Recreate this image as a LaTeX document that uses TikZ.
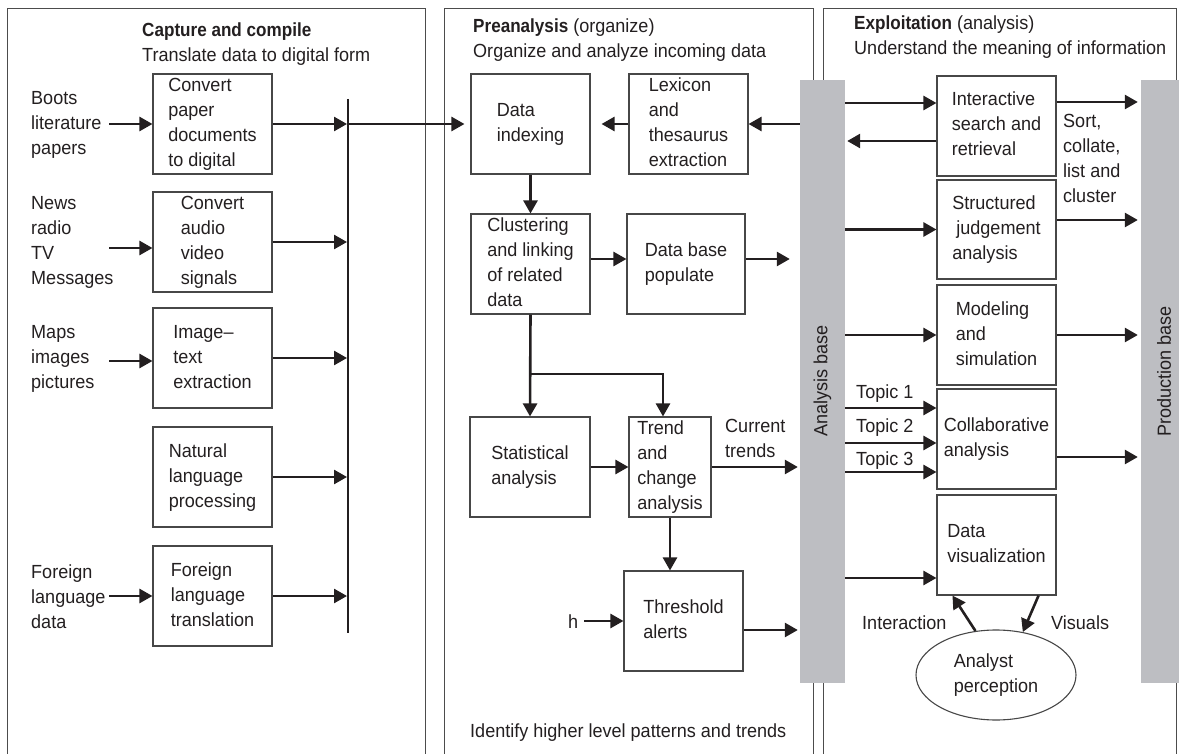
\documentclass[tikz,border=0pt]{standalone}
\usepackage{fontspec}
\setmainfont{Liberation Sans}[FakeStretch=0.95,BoldFeatures={FakeStretch=0.9}]
\usetikzlibrary{arrows.meta,shapes.geometric,calc}
\definecolor{basegray}{RGB}{189,190,194}
\definecolor{ink}{RGB}{35,31,32}
% \mybox{name}{x1}{y1}{x2}{y2}{text}: framed process box given by its corners
\newcommand{\mybox}[6]{%
  \node[box, minimum width={(#4)-(#2)}, minimum height={(#5)-(#3)}]
    (#1) at ({((#2)+(#4))/2},{((#3)+(#5))/2}) {\strut#6\strut};}
\begin{document}
\begin{tikzpicture}[x=1pt,y=-1pt,
  every node/.style={font=\fontsize{19}{25}\selectfont, inner sep=0pt, text=ink},
  box/.style={draw=black!72, line width=1.1pt, rectangle, align=left},
  lbl/.style={align=left, anchor=north west},
  hd/.style={anchor=base west},
  panel/.style={draw=black!70, line width=0.9pt},
  arr/.style={draw=ink, line width=2.6pt, -{Triangle[length=13pt,width=14pt]}},
  busline/.style={draw=ink, line width=2.7pt},
  bar/.style={fill=basegray, draw=none, rectangle}]
\useasboundingbox (0,0) rectangle (1179,754);

% ---- panel frames (open at the bottom)
\draw[panel] (7,754) -- (7,8) -- (425,8) -- (425,754);
\draw[panel] (444,754) -- (444,8) -- (813,8) -- (813,754);
\draw[panel] (823,754) -- (823,8) -- (1176,8) -- (1176,754);

% ---- panel headings
\node[hd] (h1) at (142,37) {\textbf{Capture and compile}};
\node[hd] (h1b) at (142,62) {Translate data to digital form};
\node[hd] (h2) at (473,33) {\textbf{Preanalysis} (organize)};
\node[hd] (h2b) at (473,58) {Organize and analyze incoming data};
\node[hd] (h3) at (854,30) {\textbf{Exploitation} (analysis)};
\node[hd] (h3b) at (854,55) {Understand the meaning of information};
\node[hd] (h2c) at (470,737) {Identify higher level patterns and trends};

% ---- analysis and production bases
\node[bar, minimum width=45, minimum height=603] (AB) at (822.5,381.5) {};
\node[bar, minimum width=45, minimum height=603] (PB) at (1163.5,381.5) {};
\node[rotate=90, anchor=west] (ABt) at (822.5,437) {Analysis base};
\node[rotate=90, anchor=west] (PBt) at (1164,437) {Production base};

% ---- capture and compile
\node[lbl] (I1) at (31,86.5) {\strut Boots\\literature\\papers};
\node[lbl] (I2) at (31,191.5) {\strut News\\radio\\TV\\Messages};
\node[lbl] (I3) at (31,320.5) {\strut Maps\\images\\pictures};
\node[lbl] (I5) at (31,560.5) {\strut Foreign\\language\\data};

\mybox{L1}{153}{74}{272}{174}{Convert\\paper\\documents\\to digital}
\mybox{L2}{153}{192}{272}{292}{Convert\\audio\\video\\signals}
\mybox{L3}{153}{308}{272}{408}{Image–\\text\\extraction}
\mybox{L4}{153}{427}{272}{527}{Natural\\language\\processing}
\mybox{L5}{153}{546}{272}{646}{Foreign\\language\\translation}

\coordinate (s1) at (109,124);
\coordinate (s2) at (109,248);
\coordinate (s3) at (109,361);
\coordinate (s5) at (109,596);
\draw[arr] (s1) -- (s1 -| L1.west);
\draw[arr] (s2) -- (s2 -| L2.west);
\draw[arr] (s3) -- (s3 -| L3.west);
\draw[arr] (s5) -- (s5 -| L5.west);

\coordinate (busT) at (348,99);
\coordinate (busB) at (348,633);
\draw[busline] (busT) -- (busB);
\foreach \b in {L1,L2,L3,L4,L5}
  \draw[arr, shorten >=1pt] (\b.east) -- (\b.east -| busT);

% ---- preanalysis
\mybox{M1}{471}{74}{590}{174}{Data\\indexing}
\mybox{M2}{629}{74}{748}{174}{Lexicon\\and\\thesaurus\\extraction}
\mybox{M3}{471}{214}{590}{314}{Clustering\\and~linking\\of~related\\data}
\mybox{M4}{627}{214}{745}{314}{Data~base\\populate}
\mybox{M5}{470}{417}{590}{517}{Statistical\\analysis}
\mybox{M6}{629}{417}{711}{517}{Trend\\and\\change\\analysis}
\mybox{M7}{624}{571}{743}{671}{Threshold\\alerts}

\draw[arr, shorten >=6pt] (busT |- M1.west) -- (M1.west);
\draw[arr, shorten >=11pt] (M2.west) -- (M1.east);
\draw[arr] (AB.west |- M2.east) -- (M2.east);
\draw[arr] (M1.south) -- (M3.north);
\draw[arr] ([yshift=5pt]M3.east) -- ([yshift=5pt]M3.east -| M4.west);
\draw[arr, shorten >=10pt] ([yshift=5pt]M4.east) -- ([yshift=5pt]M4.east -| AB.west);

\coordinate (jn) at (530.5,374);
\draw[arr] (M3.south) -- (M5.north);
\draw[arr] (jn) -| ([xshift=-7pt]M6.north);
\draw[arr] (M5.east) -- (M5.east -| M6.west);
\draw[arr, shorten >=2pt] (M6.east) -- (M6.east -| AB.west);
\node[lbl] (cur) at (725,414.5) {\strut Current\\trends};
\draw[arr] (M6.south) -- (M6.south |- M7.north);

\node[hd] (hin) at (568,628) {h};
\draw[arr] ([xshift=6pt]hin.east |- M7.west) -- (M7.west);
\draw[arr, shorten >=2pt] ([yshift=-9pt]M7.east) -- ([yshift=-9pt]M7.east -| AB.west);

% ---- exploitation
\mybox{R1}{937}{76}{1056}{176}{Interactive\\search~and\\retrieval}
\mybox{R2}{937}{180}{1056}{279}{Structured\\\hspace{4pt}judgement\\analysis}
\mybox{R3}{937}{285}{1056}{385}{Modeling\\and\\simulation}
\mybox{R4}{937}{389}{1056}{489}{Collaborative\\analysis}
\mybox{R5}{937}{495}{1056}{595}{Data\\visualization}
\node[draw=black!72, line width=1.1pt, ellipse, minimum width=160, minimum height=90, align=left]
  (E) at (996,675) {\strut Analyst\\perception\strut};

\draw[arr] ([yshift=23pt]R1.west -| AB.east) -- ([yshift=23pt]R1.west);
\draw[arr, shorten >=2pt] ([yshift=-15pt]R1.west) -- ([yshift=-15pt]R1.west -| AB.east);
\draw[arr, shorten >=3pt] ([yshift=24pt]R1.east) -- ([yshift=24pt]R1.east -| PB.west);
\node[lbl] (sort) at (1063,109.5) {\strut Sort,\\collate,\\list~and\\cluster};

\draw[arr] (R2.west -| AB.east) -- (R2.west);
\draw[arr, shorten >=3pt] ([yshift=9.5pt]R2.east) -- ([yshift=9.5pt]R2.east -| PB.west);
\draw[arr] (R3.west -| AB.east) -- (R3.west);
\draw[arr, shorten >=3pt] (R3.east) -- (R3.east -| PB.west);

\draw[arr] ([yshift=31pt]R4.west -| AB.east) -- ([yshift=31pt]R4.west);
\draw[arr] ([yshift=-4pt]R4.west -| AB.east) -- ([yshift=-4pt]R4.west);
\draw[arr] ([yshift=-33pt]R4.west -| AB.east) -- ([yshift=-33pt]R4.west);
\node[hd] (t1) at (856,398) {Topic 1};
\node[hd] (t2) at (856,432) {Topic 2};
\node[hd] (t3) at (856,465) {Topic 3};
\draw[arr, shorten >=3pt] ([yshift=-18pt]R4.east) -- ([yshift=-18pt]R4.east -| PB.west);

\draw[arr] ([yshift=-33pt]R5.west -| AB.east) -- ([yshift=-33pt]R5.west);
\draw[arr] (E.115) -- ([xshift=16pt]R5.south west);
\draw[arr] ([xshift=-18pt]R5.south east) -- (E.58);
\node[hd] (inter) at (862,629) {Interaction};
\node[hd] (vis) at (1051,629) {Visuals};
\end{tikzpicture}
\end{document}
